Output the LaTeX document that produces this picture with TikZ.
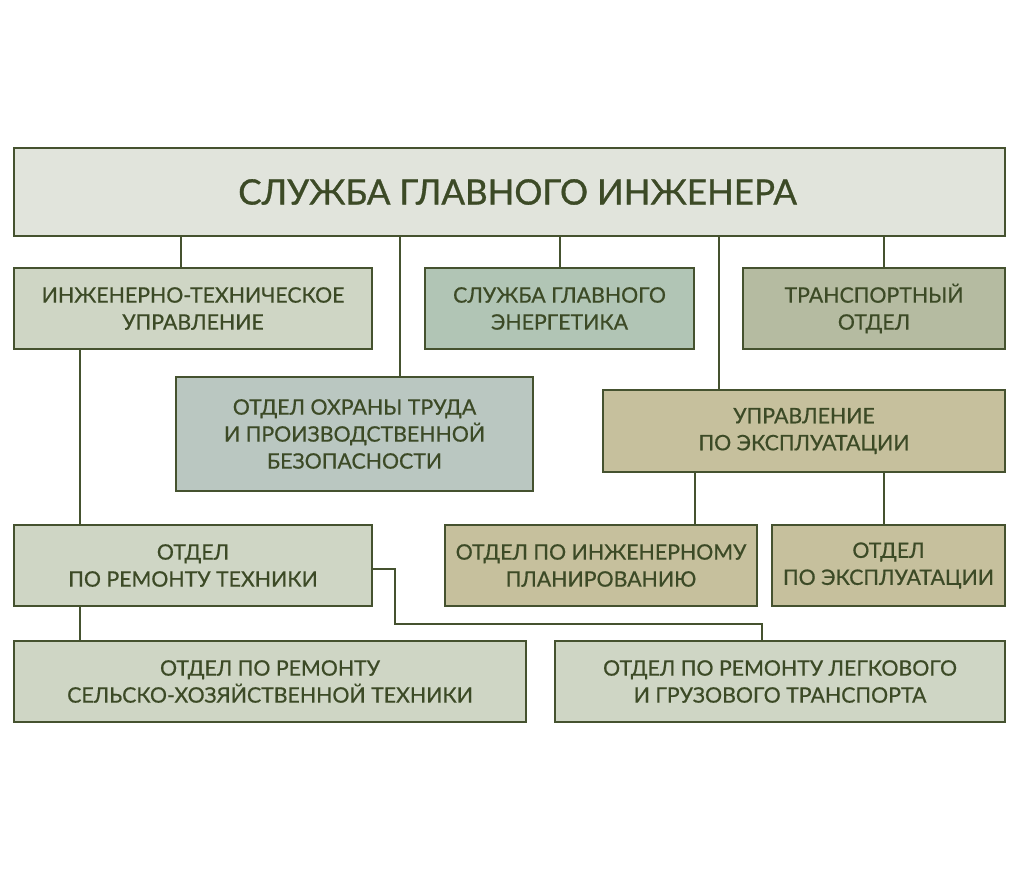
\documentclass[tikz,border=0pt]{standalone}
\usepackage{fontspec}
\setmainfont{Lato}
\newfontfamily\boxfont[FakeBold=0.6]{Lato}
\newfontfamily\titlefont[FakeBold=0.9]{Lato}
\definecolor{ink}{HTML}{3C4A26}
\definecolor{edge}{HTML}{45522F}
\definecolor{ctop}{HTML}{E1E4DC}
\definecolor{cgreen}{HTML}{CFD6C5}
\definecolor{cteal}{HTML}{B1C5B5}
\definecolor{colive}{HTML}{B5BBA1}
\definecolor{cblue}{HTML}{BAC7C1}
\definecolor{ckhaki}{HTML}{C6C09D}
\tikzset{
  box/.style={draw=edge, line width=2.4pt, inner sep=0pt, outer sep=0pt, align=center,
    text=ink, font=\boxfont\fontsize{21.3}{27}\selectfont},
  conn/.style={draw=edge, line width=2.2pt},
}
\begin{document}
\begin{tikzpicture}[x=1pt,y=-1pt]
\useasboundingbox (0,0) rectangle (1026,868);
\fill[white] (0,0) rectangle (1026,868);
% nodes
\node[box, fill=ctop, minimum width=991pt, minimum height=88pt, font=\titlefont\fontsize{35}{40}\selectfont] (top) at (509.5,192) {\hspace*{16pt}СЛУЖБА ГЛАВНОГО ИНЖЕНЕРА};
\node[box, fill=cgreen, minimum width=358pt, minimum height=81pt] (itu) at (193,308.5) {ИНЖЕНЕРНО-ТЕХНИЧЕСКОЕ\\УПРАВЛЕНИЕ};
\node[box, fill=cteal, minimum width=269pt, minimum height=81pt] (energ) at (559.5,308.5) {СЛУЖБА ГЛАВНОГО\\ЭНЕРГЕТИКА};
\node[box, fill=colive, minimum width=262pt, minimum height=81pt] (trans) at (874,308.5) {ТРАНСПОРТНЫЙ\\ОТДЕЛ};
\node[box, fill=cblue, minimum width=357pt, minimum height=114pt] (ohr) at (354.5,434) {ОТДЕЛ ОХРАНЫ ТРУДА\\И ПРОИЗВОДСТВЕННОЙ\\БЕЗОПАСНОСТИ};
\node[box, fill=ckhaki, minimum width=402pt, minimum height=82pt] (upr) at (804,431) {УПРАВЛЕНИЕ\\ПО ЭКСПЛУАТАЦИИ};
\node[box, fill=cgreen, minimum width=358pt, minimum height=81pt] (rem) at (193,565.5) {ОТДЕЛ\\ПО РЕМОНТУ ТЕХНИКИ};
\node[box, fill=ckhaki, minimum width=312pt, minimum height=81pt] (plan) at (601,565.5) {ОТДЕЛ ПО ИНЖЕНЕРНОМУ\\ПЛАНИРОВАНИЮ};
\node[box, fill=ckhaki, minimum width=233pt, minimum height=81pt] (expl) at (888.5,565.5) {ОТДЕЛ\\ПО ЭКСПЛУАТАЦИИ};
\node[box, fill=cgreen, minimum width=512pt, minimum height=81pt] (sh) at (270,681.5) {ОТДЕЛ ПО РЕМОНТУ\\СЕЛЬСКО-ХОЗЯЙСТВЕННОЙ ТЕХНИКИ};
\node[box, fill=cgreen, minimum width=450pt, minimum height=81pt] (leg) at (780,681.5) {ОТДЕЛ ПО РЕМОНТУ ЛЕГКОВОГО\\И ГРУЗОВОГО ТРАНСПОРТА};
% connector x positions
\coordinate (c1) at (181,0);
\coordinate (c2) at (400,0);
\coordinate (c3) at (560,0);
\coordinate (c4) at (719,0);
\coordinate (c5) at (884,0);
\coordinate (c6) at (80,0);
\coordinate (c7) at (695,0);
\coordinate (c9) at (762,0);
\coordinate (j1) at (395,624);
% connectors
\draw[conn] (top.south -| c1) -- (itu.north -| c1);
\draw[conn] (top.south -| c2) -- (ohr.north -| c2);
\draw[conn] (top.south -| c3) -- (energ.north -| c3);
\draw[conn] (top.south -| c4) -- (upr.north -| c4);
\draw[conn] (top.south -| c5) -- (trans.north -| c5);
\draw[conn] (itu.south -| c6) -- (rem.north -| c6);
\draw[conn] (rem.south -| c6) -- (sh.north -| c6);
\draw[conn] (upr.south -| c7) -- (plan.north -| c7);
\draw[conn] (upr.south -| c5) -- (expl.north -| c5);
\draw[conn] ([yshift=-3.5pt]rem.east) -| (j1) -| (leg.north -| c9);
\end{tikzpicture}
\end{document}
